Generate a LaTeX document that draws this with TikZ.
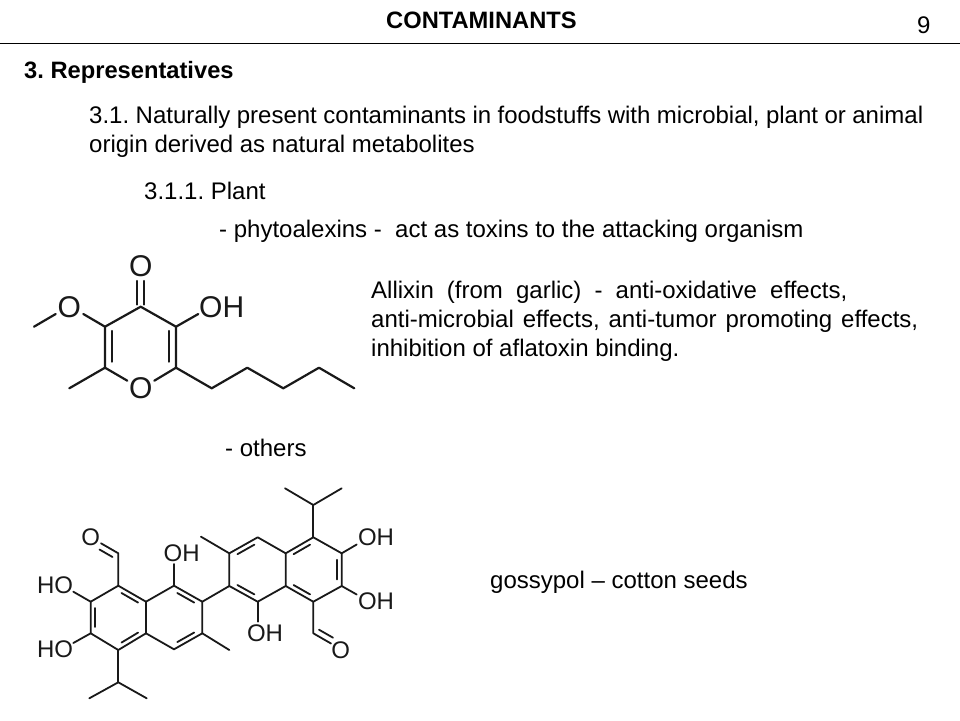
\documentclass[tikz,border=0pt]{standalone}
\usepackage{fontspec}
\setmainfont{Liberation Sans}
\usetikzlibrary{calc}
\tikzset{
  bond/.style={line width=2.2pt,line cap=round,line join=round,draw=black!90},
  gbond/.style={line width=1.8pt,line cap=round,line join=round,draw=black!90},
  atom/.style={inner sep=0pt,font=\fontsize{30}{30}\selectfont,text=black!90},
  gatom/.style={inner sep=0pt,font=\fontsize{24}{24}\selectfont,text=black!90},
  txt/.style={anchor=base west,inner sep=0pt,font=\fontsize{24}{28}\selectfont},
  txtb/.style={anchor=base west,inner sep=0pt,font=\fontsize{23.7}{28}\selectfont\bfseries}
}
\newcommand{\inbond}[3]{\draw[gbond] ($(#1)!.14!(#2)!.17!(#3)$) -- ($(#2)!.14!(#1)!.17!(#3)$);}
\newcommand{\pts}[1]{\foreach \n/\x/\y in {#1}{\coordinate (\n) at (\x,\y);}}
\frenchspacing
\begin{document}
\begin{tikzpicture}[x=1pt,y=-1pt]
\useasboundingbox (0,0) rectangle (960,720);
\fill[white] (0,0) rectangle (960,720);
% texts
\node[txtb] (title) at (386,28) {CONTAMINANTS};
\node[txt] (page) at (917,33) {9};
\coordinate (ruleL) at (0,43); \coordinate (ruleR) at (960,43);
\draw[line width=0.9pt] (ruleL) -- (ruleR);
\node[txtb] (rep) at (24,78) {3. Representatives};
\node[txt] (t1a) at (89,123) {\hbox to 834pt{3.1. Naturally present contaminants in foodstuffs with microbial, plant or animal}};
\node[txt] (t1b) at (89,152) {origin derived as natural metabolites};
\node[txt] (t2) at (144,199) {3.1.1. Plant};
\node[txt] (t3) at (219,237) {- phytoalexins -\ \ act as toxins to the attacking organism};
\node[txt] (a1) at (371,298) {\hbox to 476pt{Allixin (from garlic) - anti-oxidative effects,}};
\node[txt] (a2) at (371,327) {\hbox to 547pt{anti-microbial effects, anti-tumor promoting effects,}};
\node[txt] (a3) at (371,356) {inhibition of aflatoxin binding.};
\node[txt] (t4) at (225,456) {- others};
\node[txt] (g) at (490,588) {gossypol – cotton seeds};
% Allixin
\node[atom] (Otop) at (140.7,265.7) {O};
\node[atom] (Ome) at (69.3,306.7) {O};
\node[atom] (Oh) at (221.7,306.7) {OH};
\node[atom] (Oring) at (140.7,388.3) {O};
\pts{c4/140.7/306.7,c3/105/326.7,c2/105/367.7,c6/176/367.7,c5/176/326.7,
 oa/137.3/281,ob/144/281,oa2/137.3/304.5,ob2/144/304.5,
 me/34/326.7,mo/55.7/314,om/83.3/314,mh/198.3/314,
 r1/127.3/380.7,r2/154.3/380.7,m2/69.3/388.3,
 p1/211.7/388.3,p2/247.3/367.7,p3/283.3/388.3,p4/319/367.7,p5/354.3/388.3,
 d1a/111.7/331,d1b/111.7/361.7,d2a/169/331,d2b/169/361.7}
\draw[bond] (om) -- (c3) -- (c4) -- (c5) -- (mh);
\draw[bond] (me) -- (mo);
\draw[bond] (oa) -- (oa2);
\draw[bond] (ob) -- (ob2);
\draw[bond] (c3) -- (c2) -- (r1);
\draw[bond] (m2) -- (c2);
\draw[bond] (c5) -- (c6) -- (r2);
\draw[bond] (c6) -- (p1) -- (p2) -- (p3) -- (p4) -- (p5);
\draw[bond] (d1a) -- (d1b);
\draw[bond] (d2a) -- (d2b);
% Gossypol
\node[gatom] (HO1) at (55,585.7) {HO};
\node[gatom] (HO2) at (55,649) {HO};
\node[gatom] (OHa) at (181.7,553.3) {OH};
\node[gatom] (OHb) at (265,633.3) {OH};
\node[gatom] (OHc) at (376,537.3) {OH};
\node[gatom] (OHd) at (376,601) {OH};
\node[gatom] (O1) at (90.7,537) {O};
\node[gatom] (O2) at (340.7,650) {O};
\pts{a1c/118.3/585.7,a2c/146/601.7,a3c/146/633.3,a4c/118.3/650,a5c/90.7/633.3,a6c/90.7/601.7,actr/118.3/617.7,
 b1c/174/585.7,b2c/202.3/601.7,b3c/202.3/633.3,b4c/174/649.3,bctr/174/617.7,
 cho1/118.3/553.3,ch1a/101/543.3,ch1b/112.5/557,ch1c/99.5/549.5,
 boh/174/564,hoa/73.3/591.7,hob/73.3/643,
 ip1/118.3/682.3,ip1a/89.3/698.3,ip1b/146.7/698.3,
 me2/229.3/650,
 c1c/229.3/586,c2c/229.3/553.3,c3c/257.7/537.3,c4c/285.7/553.3,c5c/285.7/586,c6c/257.7/601.7,cctr/257.7/569.5,
 d1c/313.3/537.3,d2c/341.7/553.3,d3c/341.7/586,d4c/313.3/601.7,dctr/313.3/569.5,
 me1/201/536.7,ip2/313.3/505,ip2a/285/488.3,ip2b/341.7/488.3,
 ohc/356.7/544.5,ohd/356.7/594.5,cohb/257.7/621.7,
 cho2/313.3/633.3,ch2a/331/643.5,ch2b/319/629.7,ch2c/333/637.7}
\draw[gbond] (a1c) -- (a2c) -- (a3c) -- (a4c) -- (a5c) -- (a6c) -- cycle;
\draw[gbond] (a2c) -- (b1c) -- (b2c) -- (b3c) -- (b4c) -- (a3c);
\draw[gbond] (c1c) -- (c2c) -- (c3c) -- (c4c) -- (c5c) -- (c6c) -- cycle;
\draw[gbond] (c4c) -- (d1c) -- (d2c) -- (d3c) -- (d4c) -- (c5c);
\draw[gbond] (a1c) -- (cho1) -- (ch1a);
\draw[gbond] (ch1b) -- (ch1c);
\draw[gbond] (b1c) -- (boh);
\draw[gbond] (a6c) -- (hoa);
\draw[gbond] (a5c) -- (hob);
\draw[gbond] (a4c) -- (ip1);
\draw[gbond] (ip1a) -- (ip1) -- (ip1b);
\draw[gbond] (b3c) -- (me2);
\draw[gbond] (b2c) -- (c1c);
\draw[gbond] (c2c) -- (me1);
\draw[gbond] (c6c) -- (cohb);
\draw[gbond] (d1c) -- (ip2);
\draw[gbond] (ip2a) -- (ip2) -- (ip2b);
\draw[gbond] (d2c) -- (ohc);
\draw[gbond] (d3c) -- (ohd);
\draw[gbond] (d4c) -- (cho2) -- (ch2a);
\draw[gbond] (ch2b) -- (ch2c);
\inbond{a6c}{a5c}{actr}
\inbond{a1c}{a2c}{actr}
\inbond{a3c}{a4c}{actr}
\inbond{b1c}{b2c}{bctr}
\inbond{b3c}{b4c}{bctr}
\inbond{c1c}{c6c}{cctr}
\inbond{c2c}{c3c}{cctr}
\inbond{d1c}{c4c}{dctr}
\inbond{d2c}{d3c}{dctr}
\inbond{d4c}{c5c}{dctr}
\end{tikzpicture}
\end{document}
